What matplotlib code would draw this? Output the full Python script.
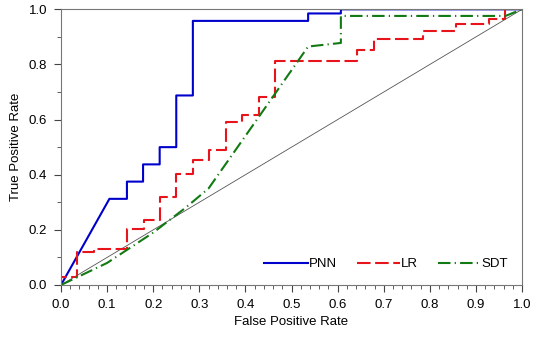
import matplotlib
matplotlib.use("Agg")
import matplotlib.pyplot as plt
from matplotlib.ticker import MultipleLocator

plt.rcParams["font.family"] = ["Liberation Sans", "DejaVu Sans"]
plt.rcParams["font.size"] = 9.5

# ROC curves
pnn_fpr = [0.0, 0.105, 0.143, 0.143, 0.178, 0.178, 0.214, 0.214, 0.25, 0.25,
           0.286, 0.286, 0.536, 0.536, 0.607, 0.607, 1.0]
pnn_tpr = [0.0, 0.3125, 0.3125, 0.375, 0.375, 0.4375, 0.4375, 0.5, 0.5, 0.6875,
           0.6875, 0.958, 0.958, 0.985, 0.985, 1.0, 1.0]

lr_fpr = [0.0, 0.0, 0.0357, 0.0357, 0.071, 0.071, 0.143, 0.143, 0.179, 0.179,
          0.214, 0.214, 0.25, 0.25, 0.286, 0.286, 0.321, 0.321, 0.357, 0.357,
          0.393, 0.393, 0.429, 0.429, 0.464, 0.464, 0.643, 0.643, 0.679, 0.679,
          0.786, 0.786, 0.857, 0.857, 0.929, 0.929, 0.964, 0.964, 1.0]
lr_tpr = [0.0, 0.03, 0.03, 0.121, 0.121, 0.132, 0.132, 0.202, 0.202, 0.234,
          0.234, 0.319, 0.319, 0.401, 0.401, 0.453, 0.453, 0.491, 0.491, 0.59,
          0.59, 0.617, 0.617, 0.683, 0.683, 0.8125, 0.8125, 0.852, 0.852, 0.891,
          0.891, 0.92, 0.92, 0.947, 0.947, 0.964, 0.964, 1.0, 1.0]

sdt_fpr = [0.0, 0.1, 0.2, 0.27, 0.32, 0.536, 0.607, 0.607, 0.964, 1.0]
sdt_tpr = [0.0, 0.08, 0.19, 0.28, 0.35, 0.865, 0.878, 0.976, 0.976, 1.0]

fig = plt.figure(figsize=(5.36, 3.4), dpi=100)
ax = fig.add_axes([0.1138, 0.1618, 0.8602, 0.8108])

ax.plot([0, 1], [0, 1], color="#555555", lw=0.6)
ax.plot(pnn_fpr, pnn_tpr, color="#0000cc", lw=1.5, label="PNN")
ax.plot(lr_fpr, lr_tpr, color="#e8141c", lw=1.5, dashes=(6.5, 2.2), label="LR")
ax.plot(sdt_fpr, sdt_tpr, color="#127a12", lw=1.5, dashes=(6, 2, 0.6, 2), label="SDT")

ax.set_xlim(0, 1)
ax.set_ylim(0, 1)
ax.xaxis.set_major_locator(MultipleLocator(0.1))
ax.xaxis.set_minor_locator(MultipleLocator(0.02))
ax.yaxis.set_major_locator(MultipleLocator(0.2))
ax.yaxis.set_minor_locator(MultipleLocator(0.1))
ax.xaxis.set_major_formatter(lambda v, p: "%.1f" % v)
ax.yaxis.set_major_formatter(lambda v, p: "%.1f" % v)
ax.tick_params(which="major", direction="out", length=5, width=0.8, color="#444444", pad=5)
ax.tick_params(which="minor", direction="out", length=3, width=0.6, color="#444444")

for s in ax.spines.values():
    s.set_color("#777777")
    s.set_linewidth(0.8)

ax.set_xlabel("False Positive Rate", labelpad=4)
ax.set_ylabel("True Positive Rate", labelpad=5)

ax.legend(loc="lower right", ncol=3, frameon=False, handlelength=3.3,
          handletextpad=0.05, columnspacing=1.5, bbox_to_anchor=(0.99, 0.02),
          borderaxespad=0.3)

fig.savefig("out.png", dpi=100)
